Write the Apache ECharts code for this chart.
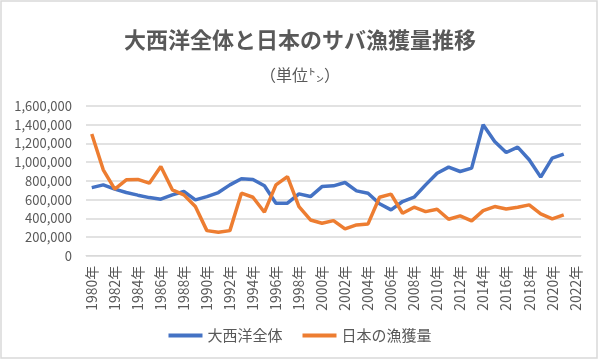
<!DOCTYPE html>
<html>
<head>
<meta charset="utf-8">
<script src="https://cdn.jsdelivr.net/npm/echarts@6/dist/echarts.min.js"></script>
<style>
html,body{margin:0;padding:0;background:#fff;}
#c{width:600px;height:360px;}
</style>
</head>
<body>
<div id="c"></div>
<script>
const titleText = '大西洋全体と日本のサバ漁獲量推移';
const subtitleText = '（単位㌧）';
const years = [];
for (let y = 1980; y <= 2022; y++) years.push(y + '年');
const seriesNames = ['大西洋全体', '日本の漁獲量'];
const atlantic = [728000, 757000, 711000, 675000, 647000, 621000, 604000, 650000, 686000, 597000,
  632000, 675000, 757000, 822000, 814000, 747000, 561000, 561000, 661000, 632000,
  739000, 747000, 782000, 693000, 668000, 556000, 490000, 579000, 625000, 757000,
  882000, 947000, 900000, 936000, 1400000, 1221000, 1103000, 1161000, 1025000, 840000,
  1043000, 1086000, null];
const japan = [1300000, 918000, 711000, 811000, 815000, 775000, 953000, 704000, 650000, 525000,
  268000, 250000, 268000, 668000, 625000, 465000, 757000, 846000, 525000, 382000,
  347000, 375000, 286000, 329000, 340000, 625000, 658000, 454000, 518000, 471000,
  497000, 390000, 425000, 372000, 482000, 525000, 500000, 518000, 543000, 447000,
  393000, 436000, null];

const FONT = '"Noto Sans CJK JP", "Noto Sans", sans-serif';
const TXT = '#595959';
const chart = echarts.init(document.getElementById('c'), null, {renderer: 'canvas'});
chart.setOption({
  animation: false,
  backgroundColor: '#fff',
  color: ['#4472C4', '#ED7D31'],
  title: [
    {text: titleText, left: 'center', top: 24,
     textStyle: {fontFamily: FONT, fontSize: 22, fontWeight: 'bold', color: TXT}},
    {text: subtitleText, left: 'center', top: 62,
     textStyle: {fontFamily: FONT, fontSize: 16, fontWeight: 'normal', color: TXT}}
  ],
  graphic: [{type: 'rect', shape: {x: 1, y: 1, width: 596, height: 357},
    style: {fill: 'none', stroke: '#D9D9D9', lineWidth: 1.5}, silent: true}],
  legend: {
    bottom: 12, left: 'center', itemGap: 20, itemWidth: 34, itemHeight: 4,
    icon: 'rect',
    textStyle: {fontFamily: FONT, fontSize: 15, color: TXT},
    data: seriesNames
  },
  grid: {left: 86, right: 19, top: 106, bottom: 104.3, containLabel: false},
  xAxis: {
    type: 'category', data: years, boundaryGap: true,
    axisLine: {lineStyle: {color: '#D9D9D9', width: 1}},
    axisTick: {show: false},
    axisLabel: {interval: 1, rotate: 90, margin: 10, fontFamily: FONT, fontSize: 14, color: TXT}
  },
  yAxis: {
    type: 'value', min: 0, max: 1600000, interval: 200000,
    axisLine: {show: false}, axisTick: {show: false},
    splitLine: {lineStyle: {color: '#D9D9D9', width: 1.5}},
    axisLabel: {margin: 14, fontFamily: FONT, fontSize: 13, color: TXT,
      formatter: v => v.toLocaleString('en-US')}
  },
  series: [
    {name: seriesNames[0], type: 'line', data: atlantic, showSymbol: false, symbol: 'none',
     lineStyle: {width: 3.5, color: '#4472C4'}, itemStyle: {color: '#4472C4'}},
    {name: seriesNames[1], type: 'line', data: japan, showSymbol: false, symbol: 'none',
     lineStyle: {width: 3.5, color: '#ED7D31'}, itemStyle: {color: '#ED7D31'}}
  ]
});
</script>
</body>
</html>
